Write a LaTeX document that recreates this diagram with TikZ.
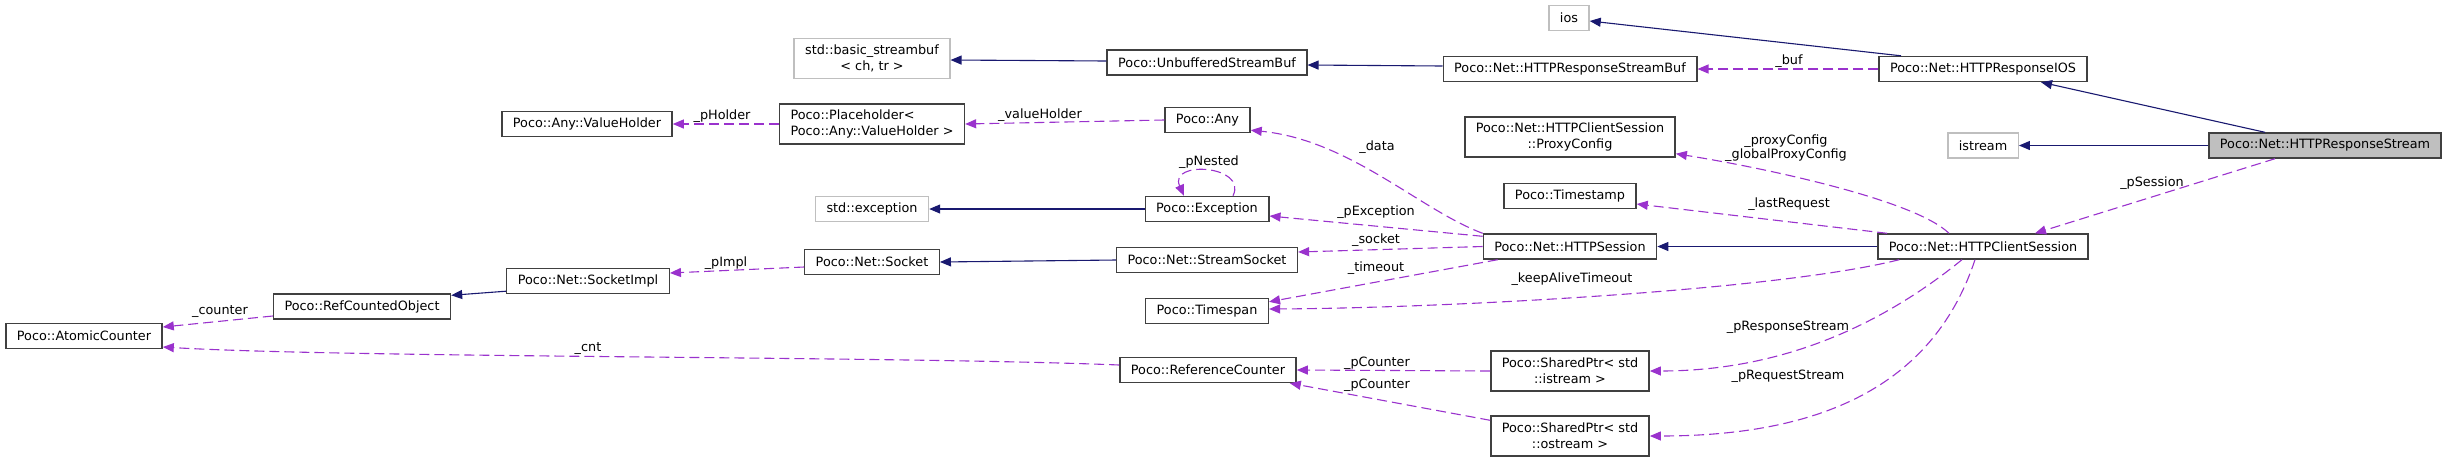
\documentclass[tikz,border=0pt]{standalone}
\usepackage{fontspec}
\setmainfont{DejaVu Sans}
\definecolor{navyedge}{HTML}{191970}
\definecolor{orchidedge}{HTML}{9A32CD}
\definecolor{boxline}{HTML}{404040}
\definecolor{undocline}{HTML}{BFBFBF}
\usetikzlibrary{arrows.meta}

\begin{document}
\begin{tikzpicture}[x=0.5pt,y=-0.5pt,
    cls/.style={draw=boxline,line width=0.7pt,fill=white,font=\fontsize{6.4}{8.2}\selectfont,
        minimum height=12.5pt,inner xsep=5.5pt,inner ysep=1pt,align=center},
    ext/.style={cls,draw=undocline},
    tall/.style={minimum height=20pt},
    lbl/.style={font=\fontsize{6.4}{7.2}\selectfont,inner sep=0pt,align=center},
    inh/.style={draw=navyedge,line width=0.55pt,-{Triangle[length=5.5pt,width=4.5pt]}},
    dep/.style={draw=orchidedge,line width=0.55pt,dash pattern=on 5pt off 2.5pt,
        -{Triangle[length=5.5pt,width=4.5pt]}}]
    \useasboundingbox (0,0) rectangle (2448,462);

    \node[cls,fill=undocline] (rstream) at (2325,145.5) {Poco::Net::HTTPResponseStream};
    \node[ext] (istream) at (1983,145.5) {istream};
    \node[cls] (rios) at (1983,69) {Poco::Net::HTTPResponseIOS};
    \node[ext] (ios) at (1569,18) {ios};
    \node[cls] (rsbuf) at (1570,69) {Poco::Net::HTTPResponseStreamBuf};
    \node[cls] (unbuf) at (1207,62.5) {Poco::UnbufferedStreamBuf};
    \node[ext,tall] (basicbuf) at (872,58.5) {std::basic\_streambuf\\< ch, tr >};
    \node[cls,tall] (proxy) at (1570,137) {Poco::Net::HTTPClientSession\\::ProxyConfig};
    \node[cls] (tstamp) at (1570,196) {Poco::Timestamp};
    \node[cls] (client) at (1983,246.5) {Poco::Net::HTTPClientSession};
    \node[cls] (session) at (1570,246.5) {Poco::Net::HTTPSession};
    \node[cls,tall] (shptri) at (1570,371) {Poco::SharedPtr< std\\::istream >};
    \node[cls,tall] (shptro) at (1570,436) {Poco::SharedPtr< std\\::ostream >};
    \node[cls] (any) at (1207.5,120) {Poco::Any};
    \node[cls,tall,align=left] (holder) at (872,124) {Poco::Placeholder<\\ Poco::Any::ValueHolder >};
    \node[cls] (vholder) at (587,124) {Poco::Any::ValueHolder};
    \node[cls] (exc) at (1207,209) {Poco::Exception};
    \node[ext] (stdexc) at (872,209) {std::exception};
    \node[cls] (ssock) at (1207,260) {Poco::Net::StreamSocket};
    \node[cls] (sock) at (872,262) {Poco::Net::Socket};
    \node[cls] (sockimpl) at (588,281) {Poco::Net::SocketImpl};
    \node[cls] (refobj) at (362,306.5) {Poco::RefCountedObject};
    \node[cls] (atomic) at (84,336) {Poco::AtomicCounter};
    \node[cls] (tspan) at (1207,311) {Poco::Timespan};
    \node[cls] (refcnt) at (1208,370) {Poco::ReferenceCounter};

    \draw[inh] ([xshift=-30pt]rstream.north) -- ([xshift=29pt]rios.south);
    \draw[inh] (rstream.west) -- (istream.east);
    \draw[inh] ([xshift=-41pt]rios.north) -- ([yshift=-1.5pt]ios.east);
    \draw[inh] ([yshift=1.5pt]rsbuf.west) -- ([yshift=-1.25pt]unbuf.east);
    \draw[inh] ([yshift=0.75pt]unbuf.west) -- ([yshift=-0.75pt]basicbuf.east);
    \draw[inh] (exc.west) -- (stdexc.east);
    \draw[inh] (ssock.west) -- (sock.east);
    \draw[inh] ([yshift=1.5pt]sockimpl.south west) -- ([yshift=-1pt]refobj.north east);
    \draw[inh] (client.west) -- (session.east);

    \draw[dep] (rios.west) -- (rsbuf.east);
    \node[lbl] (l-buf) at (1789,61) {\_buf};
    \draw[dep] ([xshift=-25pt]rstream.south) -- ([xshift=26pt]client.north);
    \node[lbl] (l-psession) at (2152,183) {\_pSession};
    \draw[dep] ([xshift=-17pt]client.north) .. controls (1915,200) and (1765,168) .. ([yshift=2pt]proxy.south east);
    \node[lbl] (l-proxy) at (1786,148) {\_proxyConfig\\\_globalProxyConfig};
    \draw[dep] ([xshift=5pt]client.north west) -- ([yshift=-4pt]tstamp.east);
    \node[lbl] (l-lastreq) at (1789,204) {\_lastRequest};
    \draw[dep] ([xshift=11pt]client.south west) .. controls (1780,290) and (1450,308) .. ([yshift=1pt]tspan.east);
    \node[lbl] (l-keepalive) at (1572,279) {\_keepAliveTimeout};
    \draw[dep] ([xshift=-10.5pt]client.south) .. controls (1900,310) and (1800,371) .. (shptri.east);
    \node[lbl] (l-presp) at (1788,327) {\_pResponseStream};
    \draw[dep] ([xshift=-4pt]client.south) .. controls (1935,380) and (1830,436) .. (shptro.east);
    \node[lbl] (l-preq) at (1788,376) {\_pRequestStream};

    \draw[dep] (session.west) -- ([yshift=4pt]ssock.east);
    \node[lbl] (l-socket) at (1376,240) {\_socket};
    \draw[dep] ([xshift=7.5pt]session.south west) -- ([yshift=-2pt]tspan.north east);
    \node[lbl] (l-timeout) at (1376,268) {\_timeout};
    \draw[dep] ([yshift=-1.5pt]session.north west) -- ([yshift=-3.5pt]exc.east);
    \node[lbl] (l-pexc) at (1376,212) {\_pException};
    \draw[dep] (session.north west) .. controls (1420,210) and (1350,140) .. ([yshift=1.5pt]any.south east);
    \node[lbl] (l-data) at (1377,147) {\_data};
    \draw[dep] ([xshift=13pt]exc.north) .. controls (1248,165) and (1168,160) .. ([xshift=-11.5pt]exc.north);
    \node[lbl] (l-pnested) at (1209,162) {\_pNested};

    \draw[dep] (any.west) -- (holder.east);
    \node[lbl] (l-valueholder) at (1040,115) {\_valueHolder};
    \draw[dep] (holder.west) -- (vholder.east);
    \node[lbl] (l-pholder) at (722,116) {\_pHolder};
    \draw[dep] ([yshift=-2.5pt]sock.west) -- ([yshift=4pt]sockimpl.east);
    \node[lbl] (l-pimpl) at (726,263) {\_pImpl};
    \draw[dep] ([yshift=-4.75pt]refobj.west) -- ([yshift=4.5pt]atomic.east);
    \node[lbl] (l-counter) at (220,312) {\_counter};
    \draw[dep] ([yshift=2.5pt]refcnt.west) .. controls (900,356) and (350,358) .. ([yshift=-5.5pt]atomic.east);
    \node[lbl] (l-cnt) at (588,349) {\_cnt};
    \draw[dep] (shptri.west) -- (refcnt.east);
    \node[lbl] (l-pcounter-i) at (1377,363) {\_pCounter};
    \draw[dep] ([yshift=-2.5pt]shptro.north west) -- ([xshift=-3.5pt]refcnt.south east);
    \node[lbl] (l-pcounter-o) at (1377,385) {\_pCounter};
\end{tikzpicture}
\end{document}
